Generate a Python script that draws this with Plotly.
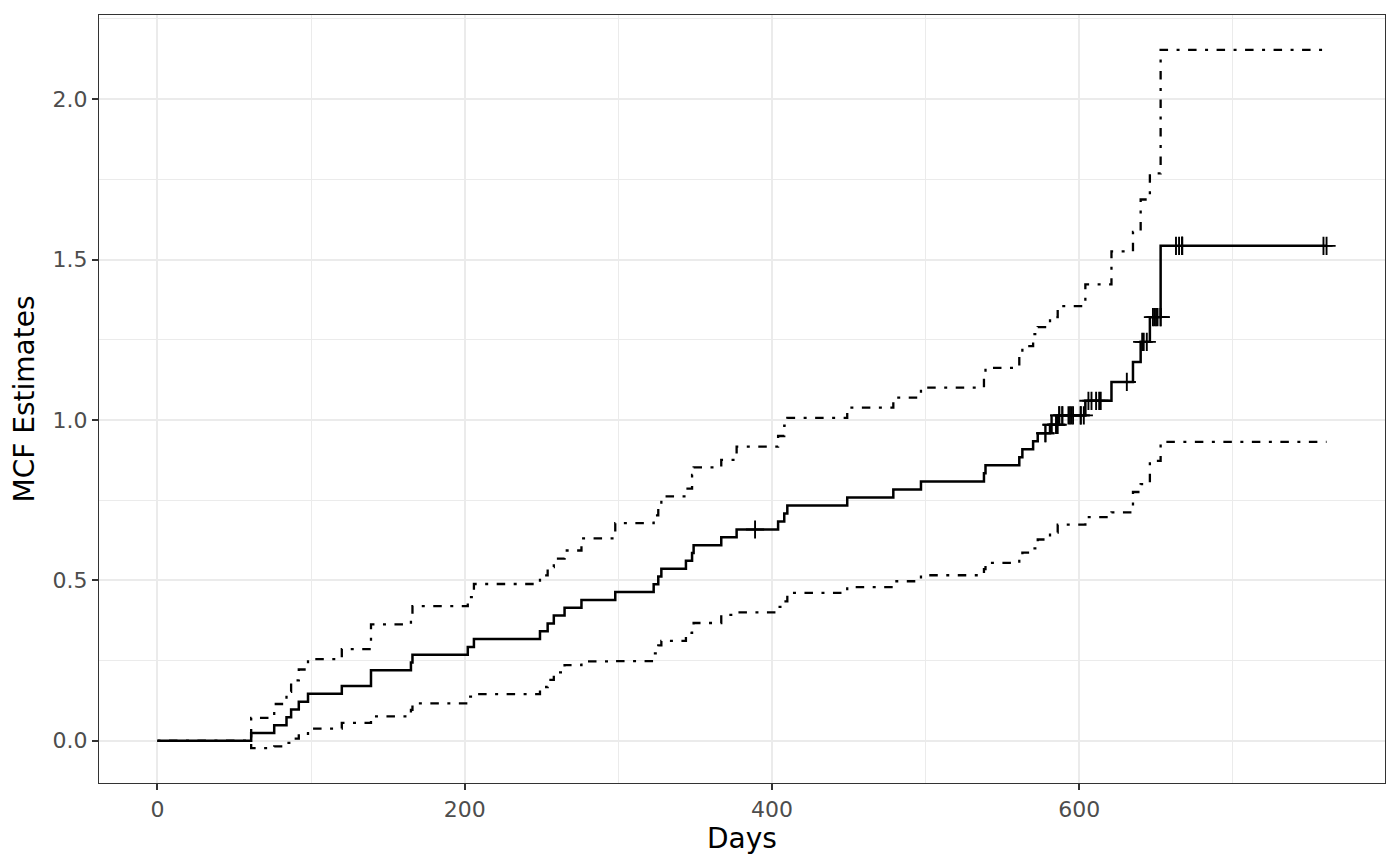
import plotly.graph_objects as go

# MCF step estimates (valve seat replacements)
days = [0, 61, 76, 84, 87, 92, 98, 120, 139, 165, 166, 202, 206, 249, 254, 258,
        265, 276, 298, 323, 326, 328, 344, 348, 349, 367, 377, 404, 408, 410,
        449, 479, 497, 538, 539, 561, 563, 570, 573, 581, 586, 604, 621, 635,
        640, 646, 653, 761]

mcf = [0, 0.024390, 0.048780, 0.073171, 0.097561, 0.121951, 0.146341, 0.170732,
       0.219512, 0.243902, 0.268293, 0.292683, 0.317073, 0.341463, 0.365854,
       0.390244, 0.414634, 0.439024, 0.463415, 0.487805, 0.512195, 0.536585,
       0.560976, 0.585366, 0.609756, 0.634146, 0.658537, 0.683537, 0.708537,
       0.733537, 0.758537, 0.783537, 0.808537, 0.833537, 0.858537, 0.883537,
       0.908537, 0.933537, 0.958537, 0.984853, 1.014265, 1.059720, 1.118544,
       1.181044, 1.243544, 1.320467, 1.542689, 1.542689]

lower = [0, -0.022829, -0.017156, -0.006542, 0.006736, 0.021787, 0.038151,
         0.055555, 0.075906, 0.096087, 0.116754, 0.137869, 0.145523, 0.167653,
         0.190131, 0.212943, 0.236079, 0.247226, 0.248589, 0.272719, 0.297109,
         0.311373, 0.336258, 0.341840, 0.367148, 0.392689, 0.400132, 0.417101,
         0.434524, 0.460822, 0.478845, 0.497247, 0.516002, 0.535089, 0.554489,
         0.566517, 0.586611, 0.599692, 0.627386, 0.649300, 0.673537, 0.697007,
         0.711846, 0.775511, 0.799957, 0.872607, 0.931855, 0.931855]

upper = [0, 0.071609, 0.114716, 0.152884, 0.188386, 0.222115, 0.254531,
         0.285909, 0.363118, 0.391717, 0.419832, 0.447497, 0.488623, 0.515273,
         0.541577, 0.567545, 0.593189, 0.630822, 0.678241, 0.702891, 0.727281,
         0.761797, 0.785694, 0.828892, 0.852364, 0.875603, 0.916942, 0.949973,
         0.982550, 1.006252, 1.038229, 1.069827, 1.101072, 1.131985, 1.162585,
         1.200557, 1.230463, 1.267382, 1.289688, 1.320406, 1.354993, 1.422433,
         1.525242, 1.586577, 1.687131, 1.768327, 2.153523, 2.153523]

# censoring times and the MCF level where the + is drawn
cens_days = [389, 578, 578, 582, 582, 585, 585, 586, 587, 587, 589, 589, 593,
             594, 595, 596, 601, 601, 603, 606, 608, 611, 613, 614, 631, 641,
             642, 644, 648, 649, 650, 651, 653, 653, 663, 665, 667, 667, 667,
             759, 761]
cens_mcf = [0.658537, 0.958537, 0.958537, 0.984853, 0.984853, 0.984853,
            0.984853, 0.984853, 1.014265, 1.014265, 1.014265, 1.014265,
            1.014265, 1.014265, 1.014265, 1.014265, 1.014265, 1.014265,
            1.014265, 1.059720, 1.059720, 1.059720, 1.059720, 1.059720,
            1.118544, 1.243544, 1.243544, 1.243544, 1.320467, 1.320467,
            1.320467, 1.320467, 1.320467, 1.320467, 1.542689, 1.542689,
            1.542689, 1.542689, 1.542689, 1.542689, 1.542689]

dotdash = "3px,8.5px,8.5px,8.5px"

fig = go.Figure()
fig.add_trace(go.Scatter(x=days, y=lower, mode="lines", line_shape="hv",
                         line=dict(color="black", width=2.3, dash=dotdash)))
fig.add_trace(go.Scatter(x=days, y=upper, mode="lines", line_shape="hv",
                         line=dict(color="black", width=2.3, dash=dotdash)))
fig.add_trace(go.Scatter(x=days, y=mcf, mode="lines", line_shape="hv",
                         line=dict(color="black", width=2.5)))
fig.add_trace(go.Scatter(x=cens_days, y=cens_mcf, mode="markers",
                         marker=dict(symbol="cross-thin-open", size=13,
                                     color="black",
                                     line=dict(color="black", width=1.9))))

axis_common = dict(
    showline=True, mirror=True, linecolor="#333333", linewidth=1.3,
    ticks="outside", ticklen=6, tickwidth=1.5, tickcolor="#333333",
    tickfont=dict(family="DejaVu Sans", size=22, color="#4D4D4D"),
    showgrid=True, gridcolor="#EBEBEB", gridwidth=2,
    zeroline=False, automargin=False,
)

fig.update_xaxes(axis_common, range=[-38.05, 799.05], tick0=0, dtick=200,
                 minor=dict(showgrid=True, gridcolor="#EBEBEB", gridwidth=1,
                            tick0=0, dtick=100),
                 title=dict(text="Days", standoff=2,
                            font=dict(family="DejaVu Sans", size=28, color="black")))
fig.update_yaxes(axis_common, range=[-0.1316, 2.2623], tick0=0, dtick=0.5,
                 tickformat=".1f",
                 minor=dict(showgrid=True, gridcolor="#EBEBEB", gridwidth=1,
                            tick0=0, dtick=0.25),
                 title=dict(text="MCF Estimates", standoff=9,
                            font=dict(family="DejaVu Sans", size=28, color="black")))

# page body has an 8px margin, so the figure is shrunk by that much
fig.update_layout(
    width=1392, height=858,
    margin=dict(l=90.5, r=15, t=7, b=83),
    paper_bgcolor="white", plot_bgcolor="white",
    showlegend=False,
)

fig.write_html("out.html")
